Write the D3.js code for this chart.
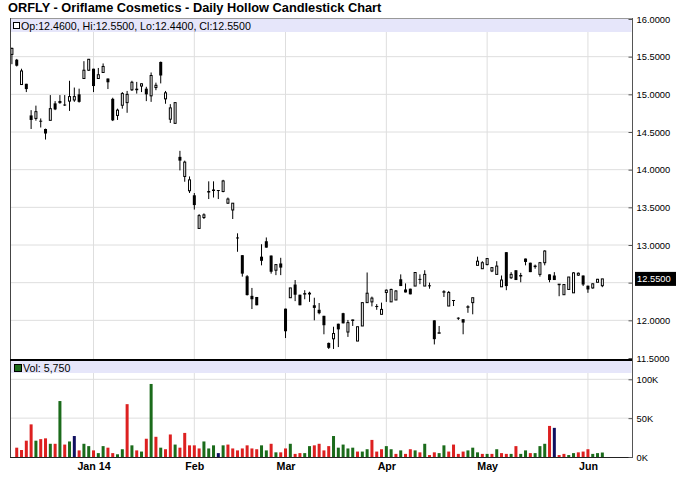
<!DOCTYPE html>
<html><head><meta charset="utf-8">
<script src="https://cdn.jsdelivr.net/npm/d3@7"></script>
<style>html,body{margin:0;padding:0;background:#fff}svg{display:block}text{font-family:"Liberation Sans",Arial,sans-serif}</style>
</head><body><svg id="c" width="680" height="497"></svg>
<script>
// ---- data (daily bars, 2013-12-06 .. 2014-06-05) ----
const openP = [15.53,15.46,15.13,15.14,14.72,14.68,14.65,14.54,14.655,14.88,14.89,14.865,14.91,14.925,15.00,15.21,15.32,15.34,15.21,15.29,
15.21,14.94,14.72,14.855,14.89,15.06,15.075,15.11,15.075,14.98,15.09,15.43,14.94,14.67,14.615,14.17,13.91,13.72,13.66,13.22,
13.365,13.705,13.725,13.73,13.71,13.555,13.465,13.10,12.865,12.585,12.325,12.31,12.845,13.05,12.86,12.665,12.755,12.155,12.30,12.475,
12.34,12.35,12.35,12.20,12.14,12.06,11.70,11.755,11.955,12.095,11.845,12.00,11.725,11.925,12.235,12.245,12.19,12.08,12.37,12.245,
12.27,12.545,12.41,12.42,12.455,12.55,12.455,12.465,12.00,11.83,12.375,12.19,12.27,12.035,12.015,12.175,12.235,12.73,12.685,12.74,
12.655,12.61,12.445,12.905,12.565,12.665,12.59,12.82,12.765,12.715,12.61,12.765,12.61,12.595,12.475,12.34,12.41,12.365,12.60,12.595,
12.46,12.43,12.505,12.46];
const highP = [15.62,15.47,15.34,15.14,14.79,14.85,14.68,14.545,14.99,14.91,14.99,14.99,15.18,15.09,15.075,15.44,15.47,15.34,15.35,15.41,
15.21,14.955,14.81,15.03,15.045,15.18,15.165,15.145,15.10,15.29,15.155,15.435,15.045,14.87,14.89,14.25,14.12,13.91,13.69,13.41,
13.42,13.845,13.845,13.73,13.865,13.63,13.555,13.155,12.865,12.60,12.43,12.31,13.01,13.10,12.86,12.74,12.83,12.155,12.43,12.535,
12.34,12.40,12.38,12.30,12.23,12.06,11.705,11.915,11.955,12.10,12.005,12.01,11.915,12.235,12.635,12.315,12.215,12.235,12.41,12.42,
12.40,12.61,12.49,12.42,12.64,12.61,12.665,12.50,12.00,11.925,12.40,12.39,12.27,12.04,12.015,12.20,12.30,12.845,12.785,12.82,
12.70,12.785,12.595,12.905,12.64,12.665,12.63,12.82,12.765,12.74,12.775,12.93,12.61,12.64,12.48,12.475,12.575,12.64,12.635,12.595,
12.46,12.49,12.55,12.55];
const lowP = [15.40,15.37,15.13,15.03,14.54,14.65,14.56,14.40,14.655,14.79,14.875,14.845,14.78,14.90,14.89,15.21,15.31,15.03,15.21,15.29,
15.07,14.645,14.66,14.81,14.755,15.045,15.01,15.03,14.91,14.90,15.055,15.145,14.875,14.62,14.61,13.99,13.84,13.69,13.47,13.22,
13.345,13.61,13.63,13.61,13.70,13.545,13.345,12.91,12.58,12.33,12.15,12.20,12.73,12.965,12.62,12.60,12.60,11.765,12.30,12.255,
12.20,12.28,12.245,12.00,12.08,11.815,11.62,11.62,11.645,11.96,11.78,11.925,11.725,11.925,12.235,12.185,12.14,12.08,12.245,12.245,
12.27,12.455,12.37,12.345,12.455,12.48,12.455,12.42,11.68,11.83,12.31,12.19,12.19,12.005,11.815,12.10,12.08,12.73,12.685,12.73,
12.64,12.61,12.445,12.40,12.55,12.535,12.505,12.73,12.64,12.685,12.58,12.73,12.505,12.535,12.32,12.34,12.41,12.365,12.59,12.455,
12.365,12.42,12.505,12.44];
const closeP = [15.61,15.38,15.31,15.07,14.66,14.77,14.645,14.48,14.81,14.80,14.905,14.86,14.97,14.97,14.90,15.32,15.465,15.11,15.26,15.37,
15.16,14.655,14.79,15.01,15.00,15.16,15.055,15.14,15.00,15.25,15.12,15.25,15.02,14.82,14.89,14.12,14.10,13.865,13.53,13.39,
13.40,13.71,13.73,13.73,13.85,13.61,13.555,13.095,12.62,12.335,12.28,12.20,12.79,12.965,12.645,12.74,12.70,11.855,12.43,12.34,
12.20,12.355,12.36,12.165,12.095,11.935,11.635,11.825,11.88,11.96,11.97,12.005,11.915,12.235,12.36,12.295,12.185,12.145,12.40,12.41,
12.39,12.455,12.37,12.345,12.635,12.545,12.61,12.455,11.75,11.835,12.38,12.37,12.265,12.03,11.97,12.18,12.30,12.785,12.765,12.82,
12.70,12.72,12.535,12.455,12.61,12.535,12.595,12.775,12.64,12.72,12.765,12.92,12.535,12.535,12.48,12.475,12.575,12.63,12.625,12.475,
12.41,12.485,12.545,12.55];
const volume = [null,12000,9000,21000,42000,21000,23000,24000,17000,17000,72000,16000,20000,27000,8500,17000,14000,8500,5000,14000,
12000,5000,3500,10000,68000,15000,8500,7000,23500,94000,26000,12000,10000,29000,16000,12000,31000,15000,15000,11000,
20000,11000,15000,5000,15000,16000,11000,8500,11000,15000,11000,10000,15000,8500,17000,6000,6000,11000,17000,4000,
5000,5000,14000,15000,17000,8500,14000,27000,12000,16000,11000,12000,7000,7000,10000,22000,7000,10000,14000,10000,
4000,8500,4000,10000,8500,6000,17000,2500,6000,5000,15000,7000,16000,4000,7000,8500,12000,6000,4000,4000,
4000,10000,5000,4000,4000,14000,4000,8500,5000,5000,14000,17000,40000,37500,2500,4000,2500,5000,6000,7000,
10000,4000,5000,5750];
const startDate = "2013-12-06";
const holidays = ["2013-12-25","2014-01-01","2014-01-20","2014-02-17","2014-04-18","2014-05-26"];
const monthLabels = ["Jan 14","Feb","Mar","Apr","May","Jun"];
const priceTicks = [11.5,12,12.5,13,13.5,14,14.5,15,15.5,16];
const volumeTicks = [0,50000,100000];
const volumeTickLabels = ["0K","50K","100K"];
const title = "ORFLY - Oriflame Cosmetics - Daily Hollow Candlestick Chart";

// ---- trading calendar ----
const dates = [];
{
  let d = new Date(startDate + "T00:00:00Z");
  while (dates.length < closeP.length) {
    const iso = d.toISOString().slice(0,10);
    const wd = d.getUTCDay();
    if (wd !== 0 && wd !== 6 && !holidays.includes(iso)) dates.push(new Date(d));
    d = new Date(d.getTime() + 86400000);
  }
}
const monthStarts = [];
dates.forEach((d,i)=>{ if(i>0 && d.getUTCMonth() !== dates[i-1].getUTCMonth()) monthStarts.push(i); });

const bars = closeP.map((c,i)=>({i, o:openP[i], h:highP[i], l:lowP[i], c, v:volume[i], prev: i>0?closeP[i-1]:null}));
const last = bars[bars.length-1];

// ---- layout ----
const L = 10, R = 632;
const svg = d3.select("#c");
svg.append("rect").attr("width",680).attr("height",497).attr("fill","#fff");

const x = d3.scaleLinear().domain([-0.4, closeP.length + 5.18]).range([L, R]);
const yP = d3.scaleLinear().domain([11.5, 16]).range([358, 19]);
const yV = d3.scaleLinear().domain([0, 100000]).range([457, 379.3]);

// gridlines
const grid = svg.append("g").attr("stroke","#dedede").attr("stroke-width",1);
grid.selectAll(".hp").data(priceTicks.filter(t=>t>11.5 && t<16)).join("line")
  .attr("x1",L).attr("x2",R).attr("y1",d=>yP(d)).attr("y2",d=>yP(d));
grid.selectAll(".hv").data(volumeTicks.filter(t=>t>0)).join("line")
  .attr("x1",L).attr("x2",R).attr("y1",d=>yV(d)).attr("y2",d=>yV(d));
grid.selectAll(".vx").data(monthStarts).join("line")
  .attr("x1",d=>x(d)).attr("x2",d=>x(d)).attr("y1",19).attr("y2",457);

// legend bands
svg.append("rect").attr("x",L+0.5).attr("y",19).attr("width",R-L-1).attr("height",13).attr("fill","#e6e6fa");
svg.append("rect").attr("x",L+0.5).attr("y",361).attr("width",R-L-1).attr("height",12).attr("fill","#e6e6fa");

// volume bars
const volColor = b => b.c > b.prev ? "#1b6b1b" : (b.c < b.prev ? "#dd2020" : "#101060");
svg.append("g").selectAll("rect").data(bars.filter(b=>b.v!=null && b.prev!=null)).join("rect")
  .attr("x",b=>x(b.i)-1.5).attr("width",3)
  .attr("y",b=>yV(b.v)).attr("height",b=>yV(0)-yV(b.v))
  .attr("fill",volColor);

// candles
const cg = svg.append("g");
cg.selectAll("line").data(bars).join("line")
  .attr("x1",b=>x(b.i)).attr("x2",b=>x(b.i))
  .attr("y1",b=>yP(b.h)).attr("y2",b=>yP(b.l))
  .attr("stroke","#000").attr("stroke-width",1);
cg.selectAll("rect").data(bars).join("rect")
  .each(function(b){
    const s = d3.select(this);
    const top = yP(Math.max(b.o,b.c)), bot = yP(Math.min(b.o,b.c));
    if (b.c > b.o) {
      s.attr("x",x(b.i)-1).attr("width",2).attr("y",top).attr("height",Math.max(bot-top,0.5))
       .attr("fill","#fff").attr("stroke","#000").attr("stroke-width",1);
    } else {
      s.attr("x",x(b.i)-1.5).attr("width",3).attr("y",top).attr("height",Math.max(bot-top,1))
       .attr("fill","#000");
    }
  });

// frame lines
svg.append("line").attr("x1",L).attr("x2",R).attr("y1",18.5).attr("y2",18.5).attr("stroke","#999");
svg.append("line").attr("x1",L+0.5).attr("x2",L+0.5).attr("y1",18).attr("y2",458).attr("stroke","#444");
svg.append("line").attr("x1",L).attr("x2",R+1).attr("y1",457.5).attr("y2",457.5).attr("stroke","#222");
svg.append("line").attr("x1",L).attr("x2",R+1).attr("y1",360).attr("y2",360).attr("stroke","#000").attr("stroke-width",2);
svg.append("line").attr("x1",R+0.5).attr("x2",R+0.5).attr("y1",18).attr("y2",458).attr("stroke","#555");

// right axes
const pa = svg.append("g").attr("transform",`translate(${R+0.5},0)`)
  .call(d3.axisRight(yP).tickValues(priceTicks).tickFormat(d3.format(".4f")).tickSize(-4).tickPadding(4));
const va = svg.append("g").attr("transform",`translate(${R+0.5},0)`)
  .call(d3.axisRight(yV).tickValues(volumeTicks).tickFormat((d,i)=>volumeTickLabels[i]).tickSize(-4).tickPadding(4));
[pa,va].forEach(a=>{
  a.select(".domain").remove();
  a.selectAll(".tick line").attr("stroke","#555");
  a.selectAll("text").attr("font-size","9.33px").attr("fill","#000").attr("font-family","'Liberation Sans',Arial,sans-serif");
});
// the last-price marker covers the tick label it overlaps
pa.selectAll(".tick").filter(d => Math.abs(yP(d) - yP(last.c)) < 11).select("text").remove();

// last price marker
const lg = svg.append("g");
lg.append("rect").attr("x",635).attr("y",yP(last.c)-7).attr("width",41).attr("height",14).attr("fill","#000");
lg.append("text").attr("x",637).attr("y",yP(last.c)).attr("dy","0.32em").attr("font-size","9.33px")
  .attr("fill","#fff").text(d3.format(".4f")(last.c));

// bottom axis
const xa = svg.append("g").attr("transform","translate(0,457)")
  .call(d3.axisBottom(x).tickValues(monthStarts).tickFormat((d,i)=>monthLabels[i]).tickSize(0).tickPadding(5.4));
xa.select(".domain").remove();
xa.selectAll("text").attr("font-size","10.67px").attr("font-weight","bold").attr("fill","#000")
  .attr("font-family","'Liberation Sans',Arial,sans-serif");

// title
svg.append("text").attr("x",8).attr("y",11.5).attr("font-size","12.8px").attr("font-weight","bold").text(title);

// legends
const f4 = d3.format(".4f");
svg.append("rect").attr("x",13.5).attr("y",22.5).attr("width",6).attr("height",6).attr("fill","#fff").attr("stroke","#000");
svg.append("text").attr("x",21).attr("y",30).attr("font-size","10.67px")
  .text(`Op:${f4(last.o)}, Hi:${f4(last.h)}, Lo:${f4(last.l)}, Cl:${f4(last.c)}`);
svg.append("rect").attr("x",14.5).attr("y",364.5).attr("width",7).attr("height",7).attr("fill","#1b6b1b").attr("stroke","#000");
svg.append("text").attr("x",23).attr("y",371.5).attr("font-size","10.67px")
  .text(`Vol: ${d3.format(",")(last.v)}`);
</script>
</body></html>
